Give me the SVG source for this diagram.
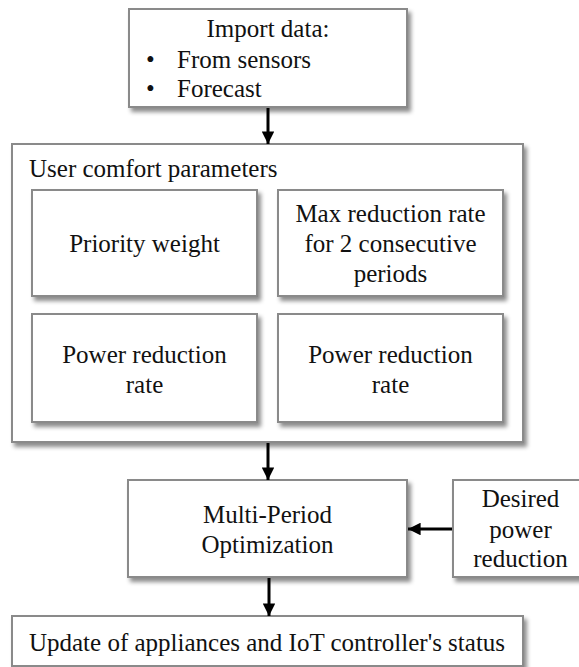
<svg xmlns="http://www.w3.org/2000/svg" width="579" height="667" viewBox="0 0 579 667">
<style>
  .box { fill: #ffffff; stroke: #8a8a8a; stroke-width: 2; filter: url(#sh); }
  .t { font-family: "Liberation Serif", "Times New Roman", serif; font-size: 25px; fill: #111111; }
  .c { text-anchor: middle; }
  .conn { stroke: #000000; stroke-width: 3; fill: none; marker-end: url(#ah); }
</style>
<defs>
  <filter id="sh" x="-10%" y="-10%" width="125%" height="130%">
    <feDropShadow dx="3" dy="4" stdDeviation="2.2" flood-color="#000000" flood-opacity="0.45"/>
  </filter>
  <marker id="ah" viewBox="0 0 10 10" refX="10" refY="5" markerWidth="4.2" markerHeight="4.2" orient="auto" markerUnits="strokeWidth">
    <path d="M0,0 L10,5 L0,10 z" fill="#000000"/>
  </marker>
</defs>
<rect width="579" height="667" fill="#ffffff"/>

<g id="import">
  <rect class="box" x="129" y="9" width="278" height="98"/>
  <text class="t c" x="268" y="37">Import data:</text>
  <text class="t" x="146" y="68">•</text>
  <text class="t" x="177" y="68">From sensors</text>
  <text class="t" x="146" y="97">•</text>
  <text class="t" x="177" y="97">Forecast</text>
</g>

<g id="comfort">
  <rect class="box" x="12" y="144" width="511" height="298"/>
  <text class="t" x="29" y="177">User comfort parameters</text>
</g>

<g id="priority">
  <rect class="box" x="32" y="190" width="225" height="106"/>
  <text class="t c" x="144.5" y="252">Priority weight</text>
</g>

<g id="maxrate">
  <rect class="box" x="278" y="190" width="225" height="106"/>
  <text class="t c" x="390.5" y="222">Max reduction rate</text>
  <text class="t c" x="390.5" y="252">for 2 consecutive</text>
  <text class="t c" x="390.5" y="282">periods</text>
</g>

<g id="powerrate1">
  <rect class="box" x="32" y="314" width="225" height="108"/>
  <text class="t c" x="144.5" y="363">Power reduction</text>
  <text class="t c" x="144.5" y="393">rate</text>
</g>

<g id="powerrate2">
  <rect class="box" x="278" y="314" width="225" height="108"/>
  <text class="t c" x="390.5" y="363">Power reduction</text>
  <text class="t c" x="390.5" y="393">rate</text>
</g>

<g id="optimization">
  <rect class="box" x="128" y="480" width="279" height="97"/>
  <text class="t c" x="267.5" y="523">Multi-Period</text>
  <text class="t c" x="267.5" y="553">Optimization</text>
</g>

<g id="desired">
  <rect class="box" x="453" y="480" width="135" height="97"/>
  <text class="t c" x="520.5" y="507">Desired</text>
  <text class="t c" x="520.5" y="538">power</text>
  <text class="t c" x="520.5" y="567">reduction</text>
</g>

<g id="update">
  <rect class="box" x="12" y="616" width="511" height="50"/>
  <text class="t c" x="267" y="651">Update of appliances and IoT controller's status</text>
</g>

<g id="connectors">
  <line class="conn" x1="268" y1="108" x2="268" y2="144"/>
  <line class="conn" x1="268" y1="443" x2="268" y2="480"/>
  <line class="conn" x1="269" y1="578" x2="269" y2="616"/>
  <line class="conn" x1="452" y1="529" x2="408" y2="529"/>
</g>
</svg>
